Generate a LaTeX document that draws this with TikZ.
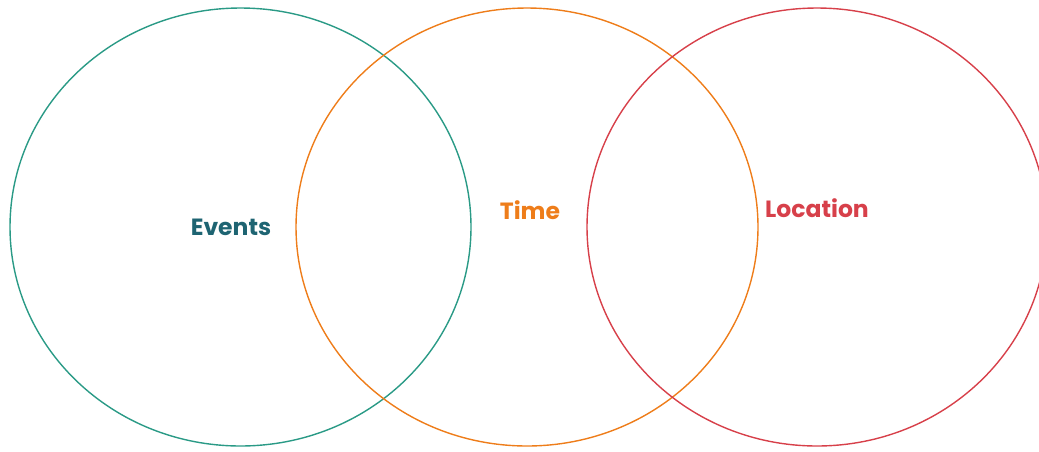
\documentclass[tikz,border=0pt]{standalone}
\usepackage{fontspec}
\setmainfont{Poppins}
\definecolor{cgreen}{HTML}{2A9A86}
\definecolor{cteal}{HTML}{1E6472}
\definecolor{corange}{HTML}{EE7D1A}
\definecolor{cred}{HTML}{D7404A}
\begin{document}
\begin{tikzpicture}[x=1pt,y=-1pt,
  ring/.style={line width=1.4pt},
  lbl/.style={font=\fontsize{23.5}{27}\selectfont\bfseries, inner sep=0pt}]
\path[use as bounding box] (0,0) rectangle (1039,451);
\begin{scope}
\clip (0,0) rectangle (1039,451);
\draw[ring, cgreen] (240.5,227) ellipse [x radius=230.5, y radius=219];
\draw[ring, corange] (527,227) ellipse [x radius=231, y radius=219];
\draw[ring, cred] (817,227) ellipse [x radius=230, y radius=219];
\end{scope}
\node[lbl, text=cteal] (events) at (231,227) {Events};
\node[lbl, text=corange] (time) at (530,210) {Time};
\node[lbl, text=cred] (location) at (817,208) {Location};
\end{tikzpicture}
\end{document}
